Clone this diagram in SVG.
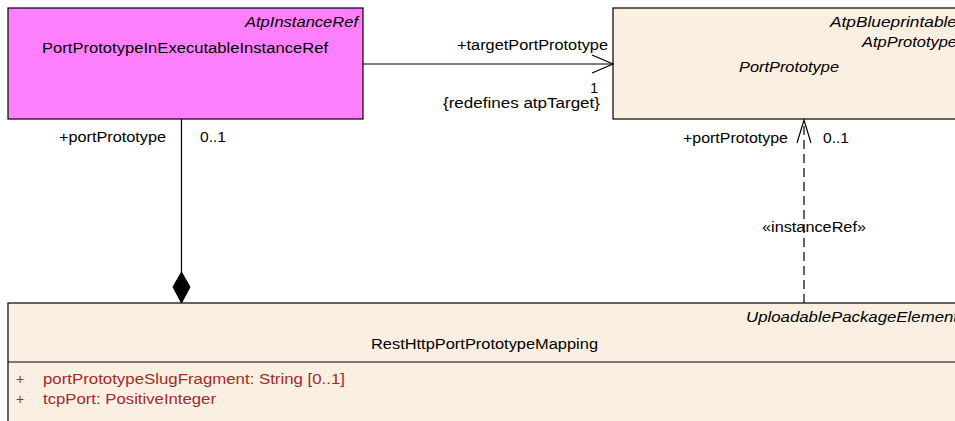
<svg xmlns="http://www.w3.org/2000/svg" width="955" height="421" viewBox="0 0 955 421">
<style>
text{font-family:"Liberation Sans",Arial,sans-serif;font-size:14px;fill:#000}
.it{font-style:italic}
.attr{fill:#A52A2A}
.box{stroke:#000;stroke-width:1.2}
.ln{stroke:#000;stroke-width:1.2;fill:none}
.dash{stroke-dasharray:9 5}
</style>
<rect width="955" height="421" fill="#fff"/>
<g id="PortPrototypeInExecutableInstanceRef">
<rect class="box" x="8" y="8" width="355" height="111" fill="#FF80FF"/>
<text class="it" x="245" y="27" textLength="113" lengthAdjust="spacingAndGlyphs">AtpInstanceRef</text>
<text x="42" y="53" textLength="286" lengthAdjust="spacingAndGlyphs">PortPrototypeInExecutableInstanceRef</text>
</g>
<g id="PortPrototype">
<rect class="box" x="613" y="8" width="360" height="111" fill="#FAEFE1"/>
<text class="it" x="830" y="27" textLength="127" lengthAdjust="spacingAndGlyphs">AtpBlueprintable</text>
<text class="it" x="862" y="47" textLength="95" lengthAdjust="spacingAndGlyphs">AtpPrototype</text>
<text class="it" x="739" y="72" textLength="100" lengthAdjust="spacingAndGlyphs">PortPrototype</text>
</g>
<g id="RestHttpPortPrototypeMapping">
<rect class="box" x="8" y="303" width="965" height="130" fill="#FAEFE1"/>
<line class="ln" x1="8" y1="362" x2="973" y2="362"/>
<text class="it" x="746" y="322" textLength="212" lengthAdjust="spacingAndGlyphs">UploadablePackageElement</text>
<text x="371" y="349" textLength="227" lengthAdjust="spacingAndGlyphs">RestHttpPortPrototypeMapping</text>
<text class="attr" x="16" y="384">+</text>
<text class="attr" x="43" y="384" textLength="302" lengthAdjust="spacingAndGlyphs">portPrototypeSlugFragment: String [0..1]</text>
<text class="attr" x="16" y="404">+</text>
<text class="attr" x="43" y="404" textLength="173" lengthAdjust="spacingAndGlyphs">tcpPort: PositiveInteger</text>
</g>
<g id="connectors">
<line class="ln" x1="363" y1="64" x2="613" y2="64"/>
<polyline class="ln" points="592,55 613,64 592,73"/>
<text x="457" y="50" textLength="151" lengthAdjust="spacingAndGlyphs">+targetPortPrototype</text>
<text x="598" y="93" text-anchor="end">1</text>
<text x="443" y="108" textLength="157" lengthAdjust="spacingAndGlyphs">{redefines atpTarget}</text>
<line class="ln" x1="181.5" y1="119" x2="181.5" y2="273"/>
<polygon points="181.5,272 190,287 181.5,303 173,287" fill="#000" stroke="#000" stroke-width="1"/>
<text x="59" y="142" textLength="107" lengthAdjust="spacingAndGlyphs">+portPrototype</text>
<text x="200" y="142" textLength="26" lengthAdjust="spacingAndGlyphs">0..1</text>
<line class="ln dash" x1="804" y1="303" x2="804" y2="121"/>
<polyline class="ln" points="797,143 804,120 811,143"/>
<text x="683" y="143" textLength="105" lengthAdjust="spacingAndGlyphs">+portPrototype</text>
<text x="823" y="143" textLength="26" lengthAdjust="spacingAndGlyphs">0..1</text>
<text x="762" y="232" textLength="104" lengthAdjust="spacingAndGlyphs">«instanceRef»</text>
</g>
</svg>
